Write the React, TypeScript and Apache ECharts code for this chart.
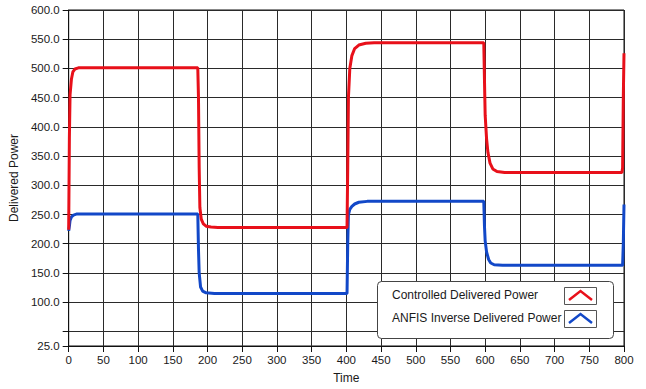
import React, { useEffect, useRef } from "react";
import * as echarts from "echarts";

// Time range and axis ticks
const TIME_MIN = 0;
const TIME_MAX = 800;
const TIME_STEP = 50;
const POWER_MIN = 25;
const POWER_MAX = 600;
const powerTickValues = [25, 50, 100, 150, 200, 250, 300, 350, 400, 450, 500, 550, 600];
const powerLabelValues = [25, 100, 150, 200, 250, 300, 350, 400, 450, 500, 550, 600];

const SERIES_CONTROLLED = "Controlled Delivered Power";
const SERIES_ANFIS = "ANFIS Inverse Delivered Power";

// [time, delivered power]
const controlledPower: [number, number][] = [
  [0, 224], [1, 380], [2, 455], [4, 482], [6, 494], [9, 499], [14, 501],
  [186, 501], [187, 450], [188, 330], [189, 262], [191, 242], [194, 234], [198, 230], [205, 228.5], [215, 228],
  [401, 228], [402, 330], [403, 450], [405, 500], [408, 522], [412, 534], [418, 540], [428, 543], [440, 544],
  [598, 544], [599, 480], [600, 420], [602, 380], [604, 356], [607, 338], [611, 328], [617, 323.5], [628, 322],
  [797, 322], [798, 330], [799, 450], [800, 526],
];

const anfisPower: [number, number][] = [
  [0, 222], [1, 230], [2, 240], [4, 246], [7, 249], [12, 251],
  [186, 251], [187, 190], [188, 150], [190, 126], [193, 119], [198, 116], [210, 115],
  [401, 115], [402, 200], [403, 250], [405, 259], [408, 264], [412, 268], [418, 271], [430, 272.5],
  [598, 272.5], [599, 230], [600, 205], [602, 186], [605, 173], [608, 167], [613, 164], [625, 163],
  [798, 163], [799, 200], [800, 267],
];

const RED = "#e8101a";
const BLUE = "#1248c8";
const FONT = "Liberation Sans";

function legendItem(label: string, color: string, y: number) {
  return [
    {
      type: "text",
      left: 392,
      top: y - 7,
      style: { text: label, font: `12px "${FONT}"`, fill: "#1a1a1a" },
    },
    {
      type: "rect",
      shape: { x: 564.5, y: y - 8.5, width: 32, height: 17 },
      style: { fill: "#fff", stroke: "#555", lineWidth: 1 },
    },
    {
      type: "polyline",
      shape: { points: [[569, y + 4], [580.5, y - 5], [592, y + 4]] },
      style: { stroke: color, lineWidth: 2.5, fill: "none" },
    },
  ];
}

export default function App() {
  const ref = useRef<HTMLDivElement>(null);

  useEffect(() => {
    if (!ref.current) return;
    const chart = echarts.init(ref.current, null, { renderer: "svg" });
    chart.setOption({
      animation: false,
      backgroundColor: "#ffffff",
      textStyle: { fontFamily: FONT },
      grid: {
        left: 67,
        top: 10,
        right: 22,
        bottom: 43,
        show: true,
        borderColor: "#111",
        borderWidth: 1,
        backgroundColor: "#ffffff",
      },
      xAxis: {
        type: "value",
        min: TIME_MIN,
        max: TIME_MAX,
        interval: TIME_STEP,
        name: "Time",
        nameLocation: "middle",
        nameGap: 26,
        nameTextStyle: { fontSize: 12, color: "#1a1a1a", fontFamily: FONT },
        axisLine: { show: true, lineStyle: { color: "#111", width: 1 } },
        axisTick: { show: true, length: 6, lineStyle: { color: "#111" } },
        axisLabel: { margin: 8, fontSize: 11.5, color: "#1a1a1a", fontFamily: FONT },
        splitLine: { show: true, lineStyle: { color: "#2a2a2a", width: 1 } },
      },
      yAxis: {
        type: "value",
        min: POWER_MIN,
        max: POWER_MAX,
        name: "Delivered Power",
        nameLocation: "middle",
        nameGap: 43,
        nameTextStyle: { fontSize: 12, color: "#1a1a1a", fontFamily: FONT },
        axisLine: { show: true, lineStyle: { color: "#111", width: 1 } },
        axisTick: {
          show: true,
          length: 6,
          customValues: powerTickValues,
          lineStyle: { color: "#111" },
        },
        axisLabel: {
          margin: 9,
          fontSize: 11.5,
          color: "#1a1a1a",
          fontFamily: FONT,
          customValues: powerLabelValues,
          formatter: (v: number) => v.toFixed(1),
        },
        splitLine: { show: true, lineStyle: { color: "#2a2a2a", width: 1 } },
      },
      series: [
        {
          name: SERIES_CONTROLLED,
          type: "line",
          data: controlledPower,
          showSymbol: false,
          lineStyle: { color: RED, width: 3 },
          itemStyle: { color: RED },
          z: 3,
        },
        {
          name: SERIES_ANFIS,
          type: "line",
          data: anfisPower,
          showSymbol: false,
          lineStyle: { color: BLUE, width: 3 },
          itemStyle: { color: BLUE },
          z: 2,
        },
      ],
      graphic: [
        {
          type: "rect",
          z: 10,
          shape: { x: 377.5, y: 281.5, width: 236, height: 57, r: 4 },
          style: { fill: "#ffffff", stroke: "#444", lineWidth: 1 },
        },
        ...legendItem(SERIES_CONTROLLED, RED, 296).map((e) => ({ ...e, z: 11 })),
        ...legendItem(SERIES_ANFIS, BLUE, 319).map((e) => ({ ...e, z: 11 })),
      ],
    });
    return () => chart.dispose();
  }, []);

  return (
    <div
      ref={ref}
      style={{ position: "fixed", left: 0, top: 0, width: 646, height: 389 }}
    />
  );
}
